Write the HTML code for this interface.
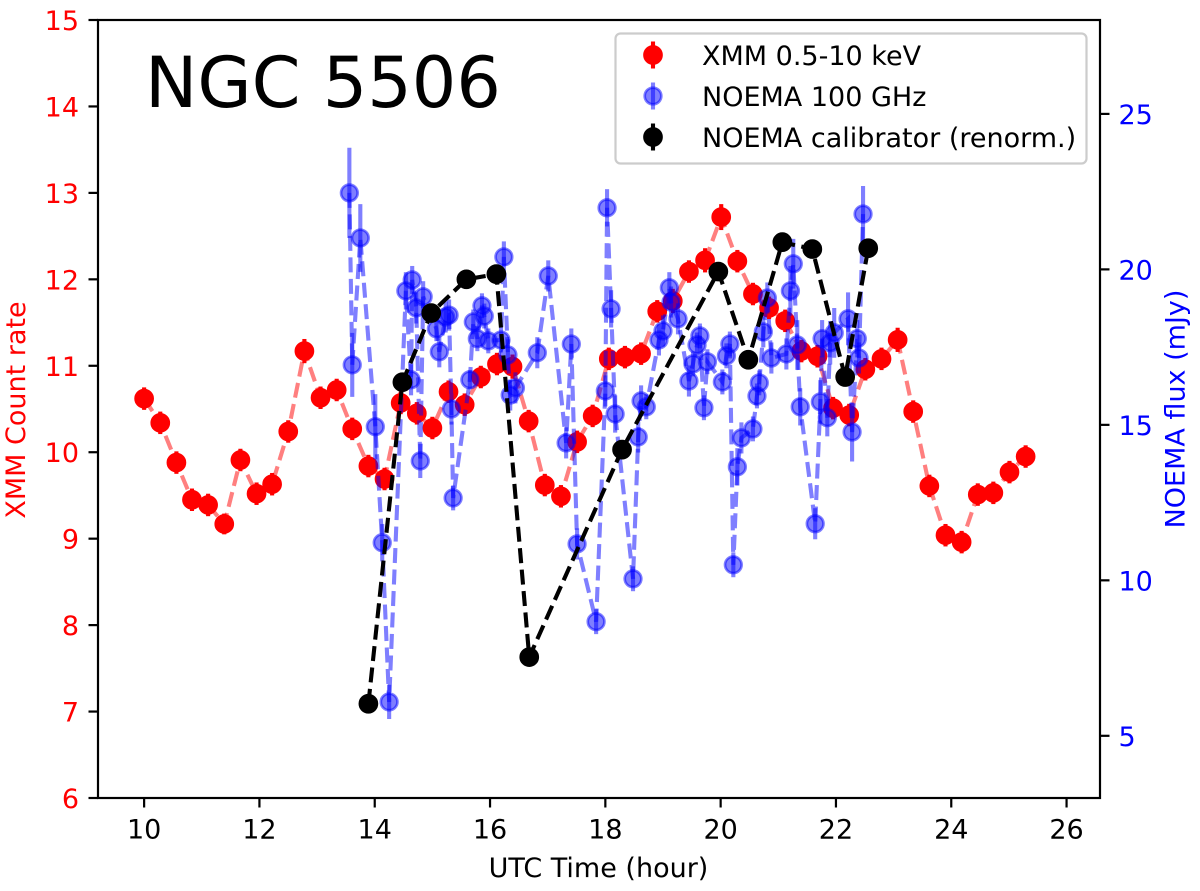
<!DOCTYPE html>
<html lang="en">
<head>
<meta charset="utf-8">
<title>NGC 5506 light curve</title>
<style>
html,body{margin:0;padding:0;background:#fff;width:1200px;height:891px;overflow:hidden}
svg{display:block}
text{font-family:"DejaVu Sans","Liberation Sans",sans-serif}
</style>
</head>
<body>
<svg id="chart" xmlns="http://www.w3.org/2000/svg" width="1200" height="891" viewBox="0 0 1200 891">
  <rect x="0" y="0" width="1200" height="891" fill="#fff"/>
  <g id="series-layer"></g>
  <g id="axes-layer"></g>
  <text x="145" y="107" font-size="70" fill="#000">NGC 5506</text>
  <text x="598.5" y="877" font-size="27" fill="#000" text-anchor="middle">UTC Time (hour)</text>
  <text transform="translate(25,410) rotate(-90)" font-size="27" fill="#ff0000" text-anchor="middle">XMM Count rate</text>
  <text transform="translate(1184.5,409) rotate(-90)" font-size="27" fill="#0000ff" text-anchor="middle">NOEMA flux (mJy)</text>
  <g id="legend">
    <rect x="615.5" y="33.5" width="471" height="130" rx="5" ry="5" fill="#fff" fill-opacity="0.8" stroke="#cccccc" stroke-width="2.2"/>
    <g>
      <line x1="653" x2="653" y1="41.5" y2="68.5" stroke="#ff0000" stroke-width="4.1"/>
      <circle cx="653" cy="55" r="8.5" fill="#ff0000" stroke="#ff0000" stroke-width="2.7"/>
      <text x="702" y="65" font-size="27" fill="#000">XMM 0.5-10 keV</text>
    </g>
    <g>
      <line x1="653" x2="653" y1="82.5" y2="109.5" stroke="#0000ff" stroke-opacity="0.5" stroke-width="4.1"/>
      <circle cx="653" cy="96" r="8.3" fill="#0000ff" fill-opacity="0.5" stroke="#0000ff" stroke-opacity="0.5" stroke-width="2.7"/>
      <text x="702" y="106" font-size="27" fill="#000">NOEMA 100 GHz</text>
    </g>
    <g>
      <line x1="653" x2="653" y1="123.5" y2="150.5" stroke="#000" stroke-width="4.1"/>
      <circle cx="653" cy="137" r="8.5" fill="#000" stroke="#000" stroke-width="2.7"/>
      <text x="702" y="147" font-size="27" fill="#000">NOEMA calibrator (renorm.)</text>
    </g>
  </g>
</svg>
<script>
const xTicks = [10, 12, 14, 16, 18, 20, 22, 24, 26];
const leftTicks = [6, 7, 8, 9, 10, 11, 12, 13, 14, 15];
const rightTicks = [5, 10, 15, 20, 25];

const xmmTime = [10.00,10.28,10.56,10.83,11.11,11.39,11.67,11.95,12.22,12.50,12.78,13.06,13.34,13.61,13.89,14.17,14.45,14.73,15.00,15.28,15.56,15.84,16.12,16.39,16.67,16.95,17.23,17.51,17.78,18.06,18.34,18.62,18.90,19.17,19.45,19.73,20.01,20.29,20.56,20.84,21.12,21.40,21.68,21.95,22.23,22.51,22.79,23.07,23.34,23.62,23.90,24.18,24.46,24.73,25.01,25.29];
const xmmRate = [10.62,10.34,9.88,9.45,9.39,9.17,9.91,9.52,9.63,10.24,11.17,10.63,10.72,10.27,9.84,9.69,10.57,10.45,10.28,10.70,10.55,10.87,11.02,10.99,10.36,9.62,9.49,10.12,10.42,11.08,11.10,11.14,11.63,11.75,12.09,12.22,12.72,12.21,11.83,11.67,11.52,11.17,11.11,10.51,10.43,10.96,11.08,11.30,10.47,9.61,9.04,8.96,9.51,9.53,9.77,9.95];
const xmmErr = [0.13,0.13,0.13,0.13,0.13,0.12,0.13,0.13,0.13,0.13,0.14,0.13,0.13,0.13,0.13,0.13,0.13,0.13,0.13,0.13,0.13,0.13,0.13,0.14,0.13,0.13,0.13,0.13,0.13,0.13,0.13,0.13,0.13,0.14,0.13,0.14,0.15,0.13,0.13,0.13,0.13,0.13,0.13,0.13,0.13,0.13,0.13,0.14,0.13,0.13,0.13,0.13,0.13,0.13,0.13,0.13];

const noemaTime = [13.56,13.61,13.75,14.01,14.13,14.25,14.54,14.63,14.65,14.72,14.79,14.84,15.07,15.12,15.23,15.29,15.33,15.36,15.65,15.71,15.78,15.86,15.90,15.97,16.19,16.24,16.31,16.35,16.44,16.82,17.01,17.32,17.41,17.51,17.84,18.00,18.03,18.10,18.17,18.48,18.57,18.62,18.71,18.93,19.00,19.11,19.14,19.26,19.45,19.52,19.59,19.64,19.71,19.77,20.03,20.10,20.16,20.22,20.29,20.36,20.56,20.63,20.67,20.74,20.81,20.88,21.14,21.21,21.26,21.33,21.38,21.64,21.73,21.76,21.85,21.90,21.97,22.21,22.28,22.37,22.40,22.47];
const noemaFlux = [22.46,16.93,21.01,14.94,11.21,6.09,19.31,16.45,19.66,18.76,13.84,19.12,18.09,17.35,18.47,18.53,15.51,12.65,16.45,18.31,17.77,18.83,18.50,17.70,17.73,20.40,17.25,15.96,16.19,17.32,19.79,14.42,17.60,11.17,8.67,16.09,21.98,18.73,15.35,10.05,14.61,15.77,15.58,17.73,18.02,19.41,18.95,18.41,16.41,16.96,17.57,17.86,15.55,17.03,16.38,17.22,17.60,10.50,13.65,14.58,14.87,15.93,16.35,17.99,19.08,17.15,17.28,19.31,20.18,17.57,15.58,11.82,15.74,17.77,15.23,17.64,17.96,18.41,14.77,17.77,17.15,21.78];
const noemaErr = [1.45,1.03,1.09,1.05,0.6,0.55,0.6,0.5,0.45,0.5,0.55,0.5,0.4,0.5,0.5,0.5,0.5,0.4,0.3,0.4,0.4,0.4,0.4,0.4,0.4,0.5,0.5,0.5,0.5,0.5,0.5,0.5,0.5,0.5,0.4,0.5,0.6,0.6,0.6,0.4,0.5,0.5,0.4,0.5,0.5,0.5,0.5,0.5,0.5,0.4,0.4,0.4,0.4,0.4,0.4,0.4,0.4,0.4,0.6,0.5,0.4,0.4,0.4,0.5,0.5,0.5,0.5,0.8,0.8,0.8,0.6,0.5,0.7,0.6,0.6,0.7,0.8,0.85,0.95,0.6,0.5,0.9];

const calTime = [13.89,14.48,14.98,15.59,16.11,16.68,18.29,19.96,20.48,21.07,21.59,22.16,22.56];
const calRate = [7.09,10.81,11.61,12.00,12.06,7.63,10.03,12.09,11.07,12.43,12.35,10.87,12.36];
const calErr = [0.05,0.05,0.05,0.05,0.05,0.05,0.05,0.05,0.05,0.05,0.05,0.05,0.05];

const NS = 'http://www.w3.org/2000/svg';
const PLOT = { left: 98, right: 1100, top: 20, bottom: 798 };
const X_DOMAIN = [9.2, 26.58];
const LEFT_DOMAIN = [6, 15];
const RIGHT_DOMAIN = [3, 28.02];

function xScale(v) {
  return PLOT.left + (v - X_DOMAIN[0]) / (X_DOMAIN[1] - X_DOMAIN[0]) * (PLOT.right - PLOT.left);
}
function leftScale(v) {
  return PLOT.bottom - (v - LEFT_DOMAIN[0]) / (LEFT_DOMAIN[1] - LEFT_DOMAIN[0]) * (PLOT.bottom - PLOT.top);
}
function rightScale(v) {
  return PLOT.bottom - (v - RIGHT_DOMAIN[0]) / (RIGHT_DOMAIN[1] - RIGHT_DOMAIN[0]) * (PLOT.bottom - PLOT.top);
}
function make(tag, attrs, parent) {
  const el = document.createElementNS(NS, tag);
  for (const k in attrs) el.setAttribute(k, attrs[k]);
  parent.appendChild(el);
  return el;
}

const seriesLayer = document.getElementById('series-layer');
const axesLayer = document.getElementById('axes-layer');

function drawSeries(slug, xs, ys, errs, yScale, color, alpha, r) {
  const group = make('g', {}, seriesLayer);
  
  
  const pts = xs.map((x, i) => xScale(x).toFixed(2) + ',' + yScale(ys[i]).toFixed(2)).join(' ');
  const line = make('polyline', {
    points: pts, fill: 'none', stroke: color, 'stroke-opacity': slug === 'calibrator' ? 1 : 0.5,
    'stroke-width': 4.1, 'stroke-dasharray': '15 6.5'
  }, group);
  
  
  xs.forEach((x, i) => {
    const bar = make('line', {
      x1: xScale(x), x2: xScale(x), y1: yScale(ys[i] - errs[i]), y2: yScale(ys[i] + errs[i]),
      stroke: color, 'stroke-opacity': alpha, 'stroke-width': 4.1
    }, group);
    
    
  });
  xs.forEach((x, i) => {
    const dot = make('circle', {
      cx: xScale(x), cy: yScale(ys[i]), r: r, fill: color, 'fill-opacity': alpha,
      stroke: color, 'stroke-opacity': alpha, 'stroke-width': 2.7
    }, group);
    
    
  });
}

drawSeries('xmm', xmmTime, xmmRate, xmmErr, leftScale, '#ff0000', 1, 8.5);
drawSeries('noema', noemaTime, noemaFlux, noemaErr, rightScale, '#0000ff', 0.5, 8.3);
drawSeries('calibrator', calTime, calRate, calErr, leftScale, '#000000', 1, 8.5);

const frame = make('rect', {
  x: PLOT.left, y: PLOT.top, width: PLOT.right - PLOT.left, height: PLOT.bottom - PLOT.top,
  fill: 'none', stroke: '#000', 'stroke-width': 2.2
}, axesLayer);



xTicks.forEach(t => {
  const x = xScale(t);
  const tick = make('line', { x1: x, x2: x, y1: PLOT.bottom, y2: PLOT.bottom + 9.5, stroke: '#000', 'stroke-width': 2.2 }, axesLayer);
  
  
  const label = make('text', { x: x, y: 838.5, 'font-size': 27, fill: '#000', 'text-anchor': 'middle' }, axesLayer);
  label.textContent = String(t);
  
  
});

leftTicks.forEach(t => {
  const y = leftScale(t);
  const tick = make('line', { x1: PLOT.left - 9.5, x2: PLOT.left, y1: y, y2: y, stroke: '#000', 'stroke-width': 2.2 }, axesLayer);
  
  
  const label = make('text', { x: 79, y: y + 10, 'font-size': 27, fill: '#ff0000', 'text-anchor': 'end' }, axesLayer);
  label.textContent = String(t);
  
  
});

rightTicks.forEach(t => {
  const y = rightScale(t);
  const tick = make('line', { x1: PLOT.right, x2: PLOT.right + 9.5, y1: y, y2: y, stroke: '#000', 'stroke-width': 2.2 }, axesLayer);
  
  
  const label = make('text', { x: 1118.5, y: y + 10, 'font-size': 27, fill: '#0000ff' }, axesLayer);
  label.textContent = String(t);
  
  
});
</script>
</body>
</html>
